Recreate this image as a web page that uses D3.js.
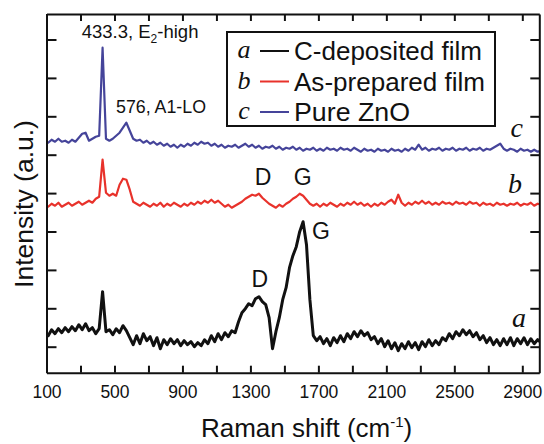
<!DOCTYPE html>
<html>
<head>
<meta charset="utf-8">
<script src="https://cdn.jsdelivr.net/npm/d3@7"></script>
<style>
  body { margin: 0; background: #ffffff; }
  svg { display: block; font-family: "Liberation Sans", Arial, sans-serif; }
</style>
</head>
<body>
<script>

// Raman shift sampling grid (cm-1), one reading every 20 cm-1
const ramanShift = d3.range(90, 3011, 20);

// Intensities (a.u., spectra already offset for stacking)
const cDeposited = [
    40, 37, 43, 39, 44, 40, 45, 41, 46, 42,
    48, 43, 49, 42, 45, 39, 44, 81, 41, 43,
    38, 44, 40, 47, 42, 35, 28, 37, 29, 39,
    32, 36, 27, 35, 24, 33, 28, 34, 29, 33,
    27, 32, 28, 31, 26, 30, 27, 33, 29, 37,
    31, 39, 33, 40, 36, 42, 40, 51, 60, 64,
    69, 67, 74, 76, 71, 68, 55, 24, 41, 55,
    73, 85, 105, 117, 126, 141, 151, 128, 73, 37,
    32, 36, 29, 34, 27, 35, 30, 37, 31, 39,
    34, 41, 36, 42, 37, 40, 33, 36, 29, 34,
    26, 32, 24, 30, 22, 29, 24, 31, 25, 30,
    23, 31, 26, 33, 27, 32, 28, 35, 32, 39,
    34, 41, 37, 43, 38, 42, 36, 40, 33, 37,
    30, 35, 28, 33, 27, 34, 28, 35, 27, 34,
    29, 35, 28, 34, 29, 33, 30
];
const asPrepared = [
    168, 166, 169, 167, 170, 166, 168, 170, 167, 169,
    171, 168, 170, 172, 170, 174, 176, 213, 180, 177,
    179, 177, 188, 194, 193, 183, 171, 169, 167, 170,
    168, 166, 169, 167, 170, 166, 169, 167, 170, 168,
    166, 169, 167, 170, 168, 171, 169, 172, 170, 173,
    170, 172, 169, 166, 168, 165, 167, 169, 171, 174,
    176, 178, 177, 179, 175, 172, 169, 167, 165, 168,
    166, 169, 171, 174, 176, 179, 177, 173, 169, 167,
    169, 166, 169, 167, 170, 168, 166, 169, 167, 170,
    168, 171, 168, 170, 167, 169, 166, 169, 167, 170,
    168, 171, 173, 169, 178, 170, 167, 170, 168, 171,
    169, 172, 169, 171, 168, 170, 168, 171, 169, 170,
    168, 171, 169, 170, 168, 171, 169, 170, 167, 170,
    168, 169, 167, 170, 168, 169, 167, 169, 168, 170,
    167, 169, 168, 170, 167, 169, 168
];
const pureZnO = [
    232, 230, 233, 231, 234, 231, 232, 230, 233, 231,
    235, 239, 240, 232, 234, 236, 237, 325, 234, 232,
    234, 237, 240, 245, 250, 242, 234, 232, 233, 230,
    232, 229, 231, 228, 230, 227, 229, 226, 228, 225,
    228, 226, 229, 227, 230, 228, 231, 229, 230, 227,
    229, 226, 228, 225, 227, 226, 228, 225, 227, 229,
    226, 228, 225, 227, 224, 226, 225, 227, 224, 226,
    223, 225, 224, 226, 223, 225, 222, 224, 223, 225,
    222, 224, 222, 225, 223, 224, 222, 225, 223, 224,
    222, 225, 223, 221, 224, 222, 223, 221, 224, 222,
    223, 221, 224, 222, 223, 221, 224, 222, 225, 223,
    228, 223, 225, 222, 224, 223, 225, 222, 224, 223,
    225, 222, 224, 223, 225, 222, 224, 223, 225, 222,
    224, 223, 225, 227, 229, 224, 222, 224, 223, 221,
    224, 222, 223, 221, 223, 221, 222
];

// Legend entries
const seriesLetters = ["a", "b", "c"];
const seriesNames = ["C-deposited film", "As-prepared film", "Pure ZnO"];
const seriesColors = ["#111111", "#e8322b", "#45449a"];

// Axis ticks
const xTicks = [100, 300, 500, 700, 900, 1100, 1300, 1500, 1700, 1900, 2100, 2300, 2500, 2700, 2900];
const xTickLabels = [100, 500, 900, 1300, 1700, 2100, 2500, 2900];
const yTicks = [26, 64.4, 102.8, 141.2, 179.6, 218, 256.4, 294.8, 333.2];


// Width and height of the svg
let width = 544;
let height = 444;

// Plot box edges in px
let plotLeft = 46.5;
let plotRight = 539.3;
let plotTop = 14;
let plotBottom = 372.7;

let xScale = d3.scaleLinear().domain([100, 3000]).range([plotLeft, plotRight]);
let yScale = d3.scaleLinear().domain([0, 358.7]).range([plotBottom, plotTop]);

const svg = d3.select("body").append("svg")
    .attr("width", width)
    .attr("height", height)
    .attr("viewBox", [0, 0, width, height]);

// Clip spectra to the plot box
svg.append("clipPath").attr("id", "plot-clip")
    .append("rect")
    .attr("x", plotLeft).attr("y", plotTop)
    .attr("width", plotRight - plotLeft).attr("height", plotBottom - plotTop);

// Spectra lines
let line = d3.line()
    .x((d, i) => xScale(ramanShift[i]))
    .y(d => yScale(d));

let spectra = [
    {values: cDeposited, color: seriesColors[0], width: 3},
    {values: asPrepared, color: seriesColors[1], width: 2.2},
    {values: pureZnO, color: seriesColors[2], width: 2.2}
];

svg.append("g")
    .attr("clip-path", "url(#plot-clip)")
    .selectAll("path")
    .data(spectra)
    .enter()
    .append("path")
    .attr("fill", "none")
    .attr("stroke", s => s.color)
    .attr("stroke-width", s => s.width)
    .attr("stroke-linejoin", "round")
    .attr("d", s => line(s.values));

// Axes: ticks point inward on all four sides
let bottomAxis = d3.axisBottom(xScale).tickValues(xTicks)
    .tickSizeInner(-7).tickSizeOuter(0).tickPadding(13)
    .tickFormat(v => xTickLabels.includes(v) ? v : "");
let topAxis = d3.axisTop(xScale).tickValues(xTicks)
    .tickSizeInner(-7).tickSizeOuter(0).tickFormat("");
let leftAxis = d3.axisLeft(yScale).tickValues(yTicks)
    .tickSizeInner(-10).tickSizeOuter(0).tickFormat("");
let rightAxis = d3.axisRight(yScale).tickValues(yTicks)
    .tickSizeInner(-9).tickSizeOuter(0).tickFormat("");

let axes = [
    svg.append("g").attr("transform", `translate(0, ${plotBottom})`).call(bottomAxis),
    svg.append("g").attr("transform", `translate(0, ${plotTop})`).call(topAxis),
    svg.append("g").attr("transform", `translate(${plotLeft}, 0)`).call(leftAxis),
    svg.append("g").attr("transform", `translate(${plotRight}, 0)`).call(rightAxis)
];

axes.forEach(g => {
    g.select(".domain").attr("stroke", "#111").attr("stroke-width", 2);
    g.selectAll(".tick line").attr("stroke", "#111").attr("stroke-width", 2);
    g.selectAll(".tick text")
        .attr("fill", "#111")
        .style("font-family", "'Liberation Sans', Arial, sans-serif")
        .style("font-size", "17.5px");
});

// Axis titles
let xTitle = svg.append("text")
    .attr("x", 306.6)
    .attr("y", 437)
    .attr("text-anchor", "middle")
    .attr("fill", "#111")
    .style("font-size", "26px");
xTitle.append("tspan").text("Raman shift (cm");
xTitle.append("tspan").attr("dy", -10).style("font-size", "15px").text("-1");
xTitle.append("tspan").attr("dy", 10).text(")");

svg.append("text")
    .attr("transform", "translate(33, 204) rotate(-90)")
    .attr("text-anchor", "middle")
    .attr("fill", "#111")
    .style("font-size", "26.5px")
    .text("Intensity (a.u.)");

// Peak annotations (placed in data coordinates)
let e2 = svg.append("text")
    .attr("x", xScale(307))
    .attr("y", yScale(335))
    .attr("fill", "#111")
    .style("font-size", "18.5px");
e2.append("tspan").text("433.3, E");
e2.append("tspan").attr("dy", 5).style("font-size", "12px").text("2");
e2.append("tspan").attr("dy", -5).text("-high");

svg.append("text")
    .attr("x", xScale(509))
    .attr("y", yScale(260))
    .attr("fill", "#111")
    .style("font-size", "18.5px")
    .attr("textLength", 90)
    .attr("lengthAdjust", "spacingAndGlyphs")
    .text("576, A1-LO");

let bandLabels = [
    {text: "D", shift: 1374, value: 188},
    {text: "G", shift: 1607, value: 188},
    {text: "D", shift: 1356, value: 86},
    {text: "G", shift: 1715, value: 134}
];

svg.selectAll("text.band")
    .data(bandLabels)
    .enter()
    .append("text")
    .classed("band", true)
    .attr("x", d => xScale(d.shift))
    .attr("y", d => yScale(d.value))
    .attr("text-anchor", "middle")
    .attr("fill", "#111")
    .style("font-size", "23px")
    .text(d => d.text);

// Curve letters at the right end
let curveLetters = [
    {text: "a", shift: 2880, value: 46},
    {text: "b", shift: 2857, value: 180},
    {text: "c", shift: 2867, value: 236}
];

svg.selectAll("text.curve")
    .data(curveLetters)
    .enter()
    .append("text")
    .classed("curve", true)
    .attr("x", d => xScale(d.shift))
    .attr("y", d => yScale(d.value))
    .attr("text-anchor", "middle")
    .attr("fill", "#111")
    .style("font-family", "'Liberation Serif', 'Times New Roman', serif")
    .style("font-style", "italic")
    .style("font-size", "28px")
    .text(d => d.text);

// Legend box
let legend = svg.append("g");
legend.append("rect")
    .attr("x", 227).attr("y", 32)
    .attr("width", 268).attr("height", 94)
    .attr("fill", "#fff")
    .attr("stroke", "#111")
    .attr("stroke-width", 2);

let rowY = [51, 81.5, 112];
let nameWidths = [188, 191, 116];
seriesNames.forEach((name, i) => {
    let row = legend.append("g").attr("transform", `translate(0, ${rowY[i]})`);
    row.append("text")
        .attr("x", 244).attr("y", 7)
        .attr("text-anchor", "middle")
        .attr("fill", "#111")
        .style("font-family", "'Liberation Serif', 'Times New Roman', serif")
        .style("font-style", "italic")
        .style("font-size", "26px")
        .text(seriesLetters[i]);
    row.append("line")
        .attr("x1", 260).attr("x2", 289)
        .attr("y1", 0).attr("y2", 0)
        .attr("stroke", seriesColors[i])
        .attr("stroke-width", 2);
    row.append("text")
        .attr("x", 294).attr("y", 9)
        .attr("fill", "#111")
        .style("font-size", "25.5px")
        .attr("textLength", nameWidths[i])
        .attr("lengthAdjust", "spacingAndGlyphs")
        .text(name);
});

</script>
</body>
</html>
